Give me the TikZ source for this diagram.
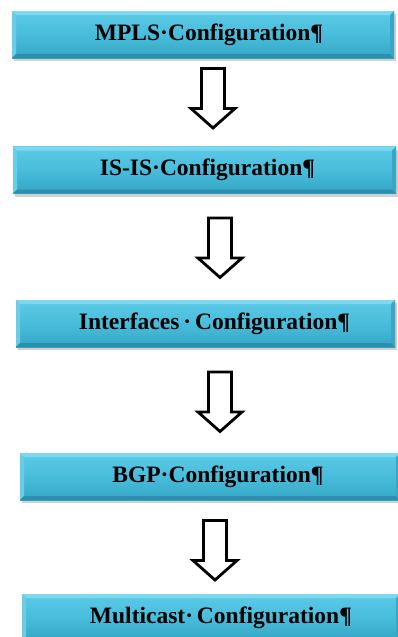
\documentclass[tikz,border=0pt]{standalone}
\usepackage{fontspec}
\setmainfont{Liberation Serif}
\usepackage{tikz}
\usetikzlibrary{shadows}
\definecolor{boxtop}{HTML}{5CCAE6}
\definecolor{boxmid}{HTML}{48BDDB}
\definecolor{boxbot}{HTML}{35A6C5}
\definecolor{bevlight}{HTML}{7ED9F0}
\definecolor{bevdark}{HTML}{2B8FAD}

\begin{document}
\begin{tikzpicture}[x=1pt, y=-1pt,
  cfgbox/.style={font=\fontsize{23.5}{26}\selectfont\bfseries, inner sep=0, minimum height=47pt,
    top color=boxtop, bottom color=boxbot, middle color=boxmid,
    drop shadow={shadow xshift=1.5pt, shadow yshift=-3pt, opacity=.3, fill=black!60},
    path picture={
      \fill[bevlight] (path picture bounding box.north west) -- (path picture bounding box.north east)
        -- ([shift={(-4pt,-4pt)}]path picture bounding box.north east) -- ([shift={(4pt,-4pt)}]path picture bounding box.north west) -- cycle;
      \fill[bevlight!60!boxmid] (path picture bounding box.north west) -- ([shift={(4pt,-4pt)}]path picture bounding box.north west)
        -- ([shift={(4pt,4pt)}]path picture bounding box.south west) -- (path picture bounding box.south west) -- cycle;
      \fill[bevdark] (path picture bounding box.south west) -- (path picture bounding box.south east)
        -- ([shift={(-4pt,4pt)}]path picture bounding box.south east) -- ([shift={(4pt,4pt)}]path picture bounding box.south west) -- cycle;
      \fill[bevdark!50!boxmid] (path picture bounding box.north east) -- ([shift={(-4pt,-4pt)}]path picture bounding box.north east)
        -- ([shift={(-4pt,4pt)}]path picture bounding box.south east) -- (path picture bounding box.south east) -- cycle;
    }},
  blockarrow/.pic={\draw[line width=2.8pt, miter limit=4, fill=white]
    (-11.5,0) -- (11.5,0) -- (11.5,40) -- (22,40) -- (0,59.5) -- (-22,40) -- (-11.5,40) -- cycle;}]
\useasboundingbox (0,0) rectangle (398,637);
%configuration steps
\node[cfgbox, minimum width=382pt] (mpls) at (203,34.5) {\hspace{12pt}MPLS·Configuration¶};
\node[cfgbox, minimum width=383pt] (isis) at (204.5,170) {\hspace{6pt}IS-IS·Configuration¶};
\node[cfgbox, minimum width=379pt] (intf) at (205.5,323.5) {\hspace{18pt}Interfaces\,·\,Configuration¶};
\node[cfgbox, minimum width=380pt] (bgp) at (210,476.5) {\hspace{16pt}BGP·Configuration¶};
\node[cfgbox, minimum width=378pt] (mcast) at (211,617.5) {\hspace{20pt}Multicast·\,Configuration¶};
%arrows between steps
\pic at (213,68.5) {blockarrow};
\pic at (220,218) {blockarrow};
\pic at (220,372) {blockarrow};
\pic at (215,520.5) {blockarrow};
\end{tikzpicture}
\end{document}
